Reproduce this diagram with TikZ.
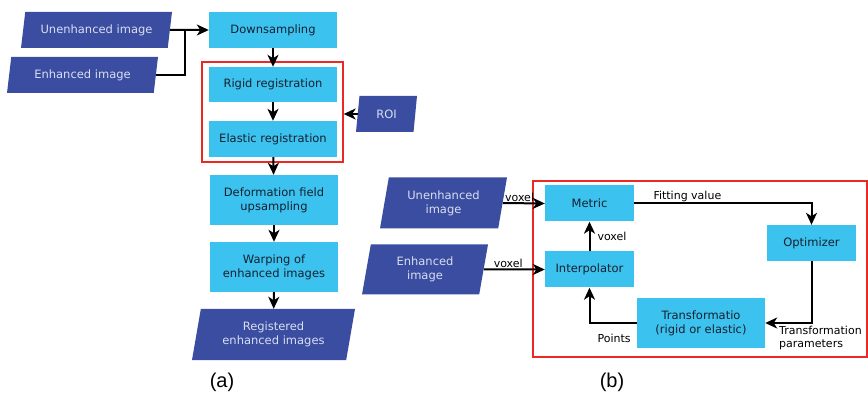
\documentclass[tikz,border=0pt]{standalone}
\usepackage{fontspec}
\setmainfont{DejaVu Sans}
\newfontfamily\capfont{Liberation Sans}
\usetikzlibrary{shapes.geometric,arrows.meta}
\tikzset{
  proc/.style = {rectangle, fill = procblue, text = proctext, minimum width = \boxw, minimum height = \boxh, inner sep = 1pt, align = center, font = \fontsize{11.5}{14}\selectfont},
  data/.style = {trapezium, trapezium left angle = 72, trapezium right angle = 108, trapezium stretches body = true, fill = datablue, text = datatext, minimum height = \boxh, inner sep = 1pt, align = center, font = \fontsize{11.5}{14}\selectfont},
  group/.style = {draw = groupred, line width = 1.3pt, inner sep = 0pt},
  flow/.style = {-{Stealth[length = 12pt, width = 11pt, inset = 3.5pt]}, line width = 2pt},
  wire/.style = {line width = 2pt},
  tag/.style = {inner sep = 1pt, font = \fontsize{11}{13.5}\selectfont},
  caption/.style = {font = \capfont\fontsize{20}{24}\selectfont}
}
\begin{document}
\begin{tikzpicture}[x = 1pt, y = -1pt]
\pgfmathsetlengthmacro\boxw{128pt};
\pgfmathsetlengthmacro\boxh{36pt};
\definecolor{procblue}{RGB}{59,194,238}
\definecolor{proctext}{RGB}{22,32,48}
\definecolor{datablue}{RGB}{58,77,160}
\definecolor{datatext}{RGB}{218,222,242}
\definecolor{groupred}{RGB}{235,40,35}
\useasboundingbox (0,0) rectangle (868,398);
\node[data, minimum width = 151pt] (uimgA) at (96.5,30) {Unenhanced image};
\node[data, minimum width = 151pt] (eimgA) at (82.5,75) {Enhanced image};
\node[proc] (down) at (273,30) {Downsampling};
\node[group, minimum width = 141pt, minimum height = 100pt] (regbox) at (272.5,112) {};
\node[proc, minimum height = 35pt] (rigid) at (273,84.5) {Rigid registration};
\node[proc] (elastic) at (273,139) {Elastic registration};
\node[data, minimum width = 61pt] (roi) at (386.5,114) {ROI};
\node[proc, minimum height = 50pt] (deform) at (274,200) {Deformation field\\upsampling};
\node[proc, minimum height = 50pt] (warp) at (274,267) {Warping of\\enhanced images};
\node[data, minimum width = 163pt, minimum height = 51pt] (reg) at (273.5,334.5) {Registered\\enhanced images};
\node[caption] (capa) at (222,382) {(a)};
\coordinate (merge) at (185,30);
\draw[flow] (uimgA.east) -- (down.west);
\draw[wire] (eimgA.east) -| (merge);
\foreach \a/\b in {down/rigid, rigid/elastic, elastic/deform, deform/warp, warp/reg} \draw[flow] (\a) -- (\b);
\draw[flow] (roi.west) -- (roi.west -| regbox.east);
\node[group, minimum width = 334pt, minimum height = 176pt] (loopbox) at (700,269) {};
\node[data, minimum width = 127pt, minimum height = 51pt] (uimgB) at (443.5,203) {Unenhanced\\image};
\node[data, minimum width = 126pt, minimum height = 50pt] (eimgB) at (425,269.5) {Enhanced\\image};
\node[proc, minimum width = 89pt] (metric) at (589.5,203.5) {Metric};
\node[proc, minimum width = 89pt] (interp) at (589.5,269.5) {Interpolator};
\node[proc, minimum width = 89pt] (optim) at (811.5,243) {Optimizer};
\node[proc, minimum height = 50pt] (trans) at (701,323) {Transformatio\\(rigid or elastic)};
\node[caption] (capb) at (612,382) {(b)};
\draw[flow] (uimgB.east) -- node[tag, above, pos = 0.4] {voxel} (metric.west);
\draw[flow] (eimgB.east) -- node[tag, above, pos = 0.4] {voxel} (interp.west);
\draw[flow] (interp) -- node[tag, right = 6pt] {voxel} (metric);
\draw[flow] (metric.east) -| node[tag, above, pos = 0.15] {Fitting value} (optim.north);
\draw[flow] (optim.south) |- node[tag, pos = 1, anchor = north west, align = left, xshift = 12pt, yshift = -1pt] {Transformation\\parameters} (trans.east);
\draw[flow] (trans.west) -| node[tag, pos = 0.24, below = 9pt] {Points} (interp.south);
\end{tikzpicture}
\end{document}
